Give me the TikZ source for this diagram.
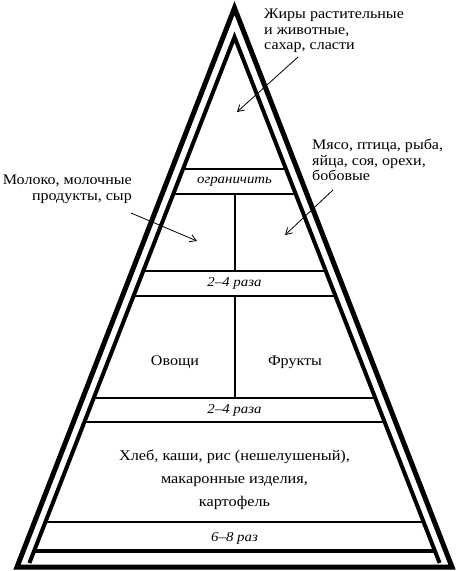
\documentclass[tikz,border=0pt]{standalone}
\usepackage{fontspec}
\setmainfont{Liberation Serif}[FakeStretch=1.1]
\usetikzlibrary{
  arrows.meta,
  calc,         % points on the sides $(a)!t!(b)$
}
\def\lblsize{\fontsize{14.6}{15.5}\selectfont}
\def\freqsize{\fontsize{13.5}{15}\selectfont}
\tikzset{
  x=1pt,
  y=-1pt,
  outer/.style={
    line width=5pt,
    line join=miter
  },
  inner/.style={
    line width=4pt,
    line join=miter
  },
  band/.style={
    line width=2.2pt
  },
  divider/.style={
    line width=2pt
  },
  pointer/.style={
    -{Straight Barb[length=2.2mm,width=2.6mm]},
    line width=0.8pt
  },
  lbl/.style={
    font=\lblsize,
    inner sep=0pt
  },
  freq/.style={
    font=\freqsize\itshape,
    inner sep=0pt
  },
  food/.style={
    font=\fontsize{14.8}{23}\selectfont,
    inner sep=0pt,
    align=center
  }
}
\begin{document}
\begin{tikzpicture}
\useasboundingbox (0,0) rectangle (457,571);
\coordinate (oa) at (234.5,8);
\coordinate (ol) at (17,567);
\coordinate (or) at (452,567);
\coordinate (ia) at (234.5,37);
\coordinate (il) at (29.4,563);
\coordinate (ir) at (439.6,563);
% band lines
\foreach \y in {169,194,271,296,398,422,522}{
  \pgfmathsetmacro\t{(\y-37)/526}
  \draw[band] ($(ia)!\t!(il)$) -- ($(ia)!\t!(ir)$);
}
\pgfmathsetmacro\t{(551-37)/526}
\draw[inner] ($(ia)!\t!(il)$) -- ($(ia)!\t!(ir)$);
\draw[divider] (234.5,194) -- (234.5,271);
\draw[divider] (234.5,296) -- (234.5,398);
% the two triangles
\draw[outer] (oa) -- (ol) -- (or) -- cycle;
\draw[inner] (il) -- (ia) -- (ir);
% texts inside
\node[freq] (limit) at (234.5,182) {ограничить};
\node[freq] (freq2) at (234.5,283) {2–4 раза};
\node[lbl]  (veg)   at (175,362)   {Овощи};
\node[lbl]  (fruit) at (295,362)   {Фрукты};
\node[freq] (freq3) at (234.5,410) {2–4 раза};
\node[food] (bread) at (234.5,480)
  {Хлеб, каши, рис (нешелушеный),\\макаронные изделия,\\картофель};
\node[freq] (freq4) at (234.5,538) {6–8 раз};
% labels outside
\node[lbl,anchor=north west,align=left] (fat) at (264,9)
  {Жиры растительные\\и животные,\\сахар, сласти};
\node[lbl,anchor=north west,align=left] (meat) at (312,139)
  {Мясо, птица, рыба,\\яйца, соя, орехи,\\бобовые};
\node[lbl,anchor=north east,align=right] (milk) at (132,175)
  {Молоко, молочные\\продукты, сыр};
\coordinate (fat-from)  at (298,57);
\coordinate (fat-to)    at (237,112);
\coordinate (meat-from) at (333,190);
\coordinate (meat-to)   at (285,235);
\coordinate (milk-from) at (131,213);
\coordinate (milk-to)   at (197,241);
\draw[pointer] (fat-from)  -- (fat-to);
\draw[pointer] (meat-from) -- (meat-to);
\draw[pointer] (milk-from) -- (milk-to);
\end{tikzpicture}
\end{document}
